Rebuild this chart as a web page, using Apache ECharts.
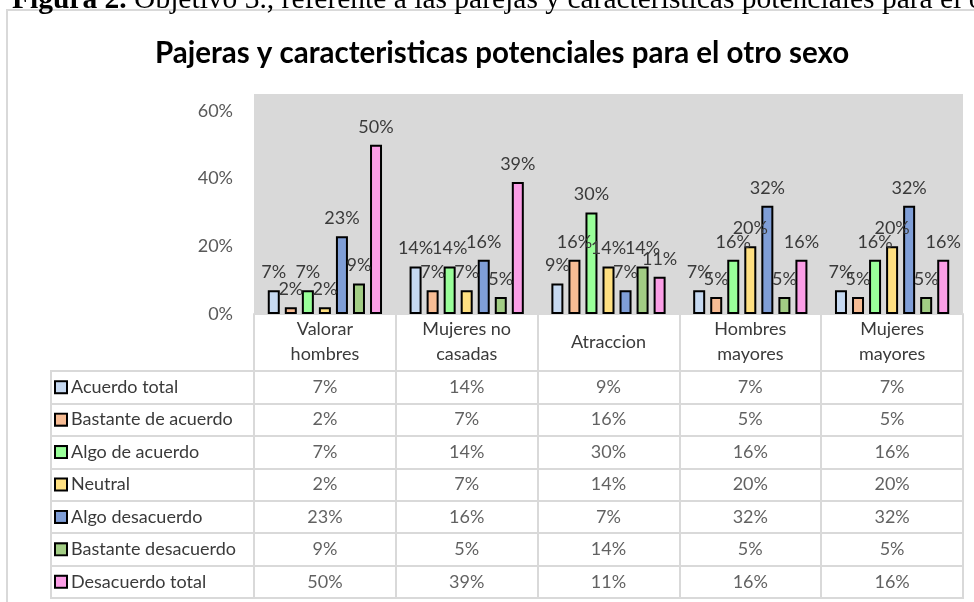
<!DOCTYPE html>
<html>
<head>
<meta charset="utf-8">
<script src="https://cdn.jsdelivr.net/npm/echarts@6/dist/echarts.min.js"></script>
<style>
  html, body { margin: 0; padding: 0; background: #fff; }
  #main { width: 974px; height: 602px; }
</style>
</head>
<body>
<div id="main"></div>
<script>
// categorias del eje x
var categories = ['Valorar\nhombres', 'Mujeres no\ncasadas', 'Atraccion', 'Hombres\nmayores', 'Mujeres\nmayores'];
var names = ['Acuerdo total', 'Bastante de acuerdo', 'Algo de acuerdo', 'Neutral', 'Algo desacuerdo', 'Bastante desacuerdo', 'Desacuerdo total'];
var colors = ['#c6d9f1', '#f7bc94', '#99ff99', '#ffe081', '#7f9ed7', '#a2cd84', '#fb9ee6'];

// valores en %
var acuerdoTotal = [7, 14, 9, 7, 7];
var bastanteAcuerdo = [2, 7, 16, 5, 5];
var algoAcuerdo = [7, 14, 30, 16, 16];
var neutral = [2, 7, 14, 20, 20];
var algoDesacuerdo = [23, 16, 7, 32, 32];
var bastanteDesacuerdo = [9, 5, 14, 5, 5];
var desacuerdoTotal = [50, 39, 11, 16, 16];
var yTicks = [0, 20, 40, 60];

var values = [acuerdoTotal, bastanteAcuerdo, algoAcuerdo, neutral, algoDesacuerdo, bastanteDesacuerdo, desacuerdoTotal];
var lineGray = '#d9d9d9';
var txt = '#3a3a3a';
var font = 'Lato';
var fs = 18;

var myChart = echarts.init(document.getElementById('main'));

// barras
var series = names.map(function (name, i) {
  return {
    name: name,
    type: 'bar',
    xAxisIndex: 0,
    yAxisIndex: 0,
    barWidth: 12,
    barGap: '42%',
    data: values[i],
    itemStyle: { color: colors[i], borderColor: '#000', borderWidth: 2 },
    label: {
      show: true,
      position: 'top',
      distance: 9,
      formatter: '{c}%',
      color: txt,
      fontSize: fs,
      fontFamily: font
    },
    emphasis: { disabled: true }
  };
});

// tabla de datos (celdas)
var cells = [];
values.forEach(function (row, i) {
  row.forEach(function (v, j) {
    cells.push([j, i, v]);
  });
});
series.push({
  type: 'scatter',
  xAxisIndex: 1,
  yAxisIndex: 1,
  symbolSize: 1,
  itemStyle: { color: 'rgba(0,0,0,0)' },
  data: cells,
  label: {
    show: true,
    position: 'inside',
    formatter: function (p) { return p.value[2] + '%'; },
    color: txt,
    fontSize: fs,
    fontFamily: font
  },
  emphasis: { disabled: true },
  silent: true
});

var rich = { t: { color: txt, fontSize: fs, fontFamily: font, padding: [0, 0, 0, 5] } };
colors.forEach(function (c, i) {
  rich['k' + i] = { backgroundColor: c, borderColor: '#000', borderWidth: 2, width: 10, height: 10 };
});

var option = {
  animation: false,
  textStyle: { fontFamily: font },
  title: {
    text: 'Pajeras y caracteristicas potenciales para el otro sexo',
    left: 497,
    textAlign: 'center',
    top: 33,
    textStyle: { fontSize: 29.5, fontWeight: 'bold', color: '#000', fontFamily: font }
  },
  graphic: [
    {
      type: 'rect',
      z: -10,
      shape: { x: 7, y: 10, width: 1200, height: 800 },
      style: { fill: '#fff', stroke: lineGray, lineWidth: 2 }
    },
    {
      type: 'text',
      x: 12,
      y: 15,
      style: {
        text: '{b|Figura 2.} Objetivo 3., referente a las parejas y caracteristicas potenciales para el otro sexo',
        verticalAlign: 'bottom',
        fill: '#000',
        font: '29.5px "Liberation Serif"',
        rich: {
          b: { fontWeight: 'bold', fontSize: 29.5, fontFamily: 'Liberation Serif' }
        }
      }
    }
  ],
  grid: [
    { left: 254, right: 11, top: 94, height: 220, show: true, backgroundColor: '#d9d9d9', borderWidth: 0 },
    { left: 254, right: 11, top: 371, height: 227, show: true, borderColor: lineGray, borderWidth: 2 },
    { left: 51, width: 203, top: 371, height: 227, show: true, borderColor: lineGray, borderWidth: 2 }
  ],
  xAxis: [
    {
      type: 'category',
      gridIndex: 0,
      data: categories,
      axisLine: { show: true, lineStyle: { color: lineGray, width: 2 } },
      axisTick: { show: true, length: 57, interval: 0, lineStyle: { color: lineGray, width: 2 } },
      axisLabel: {
        interval: 0,
        margin: 28,
        verticalAlign: 'middle',
        color: txt,
        fontSize: fs,
        lineHeight: 25,
        fontFamily: font
      },
      splitLine: { show: false }
    },
    {
      type: 'category',
      gridIndex: 1,
      data: categories,
      axisLine: { show: false },
      axisTick: { show: false },
      axisLabel: { show: false },
      splitLine: { show: true, interval: 0, lineStyle: { color: lineGray, width: 2 } }
    },
    {
      type: 'value',
      gridIndex: 2,
      min: 0,
      max: 1,
      show: false
    }
  ],
  yAxis: [
    {
      type: 'value',
      gridIndex: 0,
      min: 0,
      max: 65,
      interval: 20,
      axisLine: { show: false },
      axisTick: { show: false },
      splitLine: { show: false },
      axisLabel: {
        showMaxLabel: false,
        margin: 21,
        formatter: function (v) { return yTicks.indexOf(v) >= 0 ? v + '%' : ''; },
        color: '#595959',
        fontSize: fs,
        fontFamily: font
      }
    },
    {
      type: 'category',
      gridIndex: 1,
      inverse: true,
      data: names,
      axisLine: { show: false },
      axisTick: { show: false },
      axisLabel: { show: false },
      splitLine: { show: true, interval: 0, lineStyle: { color: lineGray, width: 2 } }
    },
    {
      type: 'category',
      gridIndex: 2,
      inverse: true,
      data: names,
      axisLine: { show: false },
      axisTick: { show: false },
      splitLine: { show: true, interval: 0, lineStyle: { color: lineGray, width: 2 } },
      axisLabel: {
        inside: true,
        interval: 0,
        margin: 5,
        formatter: function (v, i) { return '{k' + i + '|}{t|' + v + '}'; },
        rich: rich
      }
    }
  ],
  series: series
};

myChart.setOption(option);
</script>
</body>
</html>
